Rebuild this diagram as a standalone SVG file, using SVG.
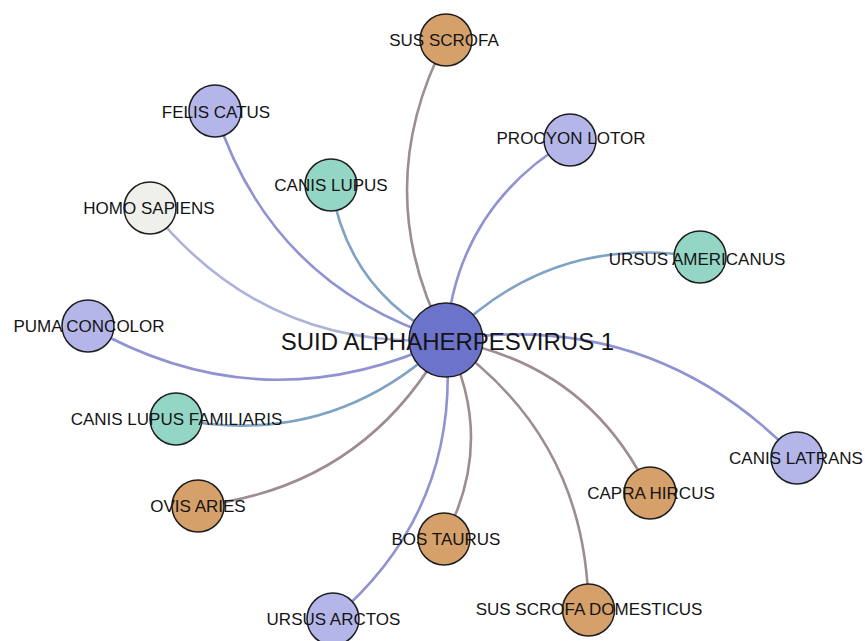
<svg xmlns="http://www.w3.org/2000/svg" width="865" height="641" viewBox="0 0 865 641">
  <style>
    .edge { fill: none; stroke-width: 2.6; stroke-linecap: round; }
    .e-lav { stroke: #8f93d2; }
    .e-tan { stroke: #9e8c95; }
    .e-teal { stroke: #7fa3c4; }
    .e-pale { stroke: #adb2d9; }
    .node { stroke: #1e1e1e; stroke-width: 1.5; }
    .hub { fill: #6b73cb; }
    .lav { fill: #b4b6ea; }
    .tan { fill: #d6a06b; }
    .teal { fill: #94d6c5; }
    .pale { fill: #eff0ec; }
    text { font-family: "Liberation Sans", Arial, sans-serif; font-size: 17px; fill: #141414; text-anchor: middle; }
    .hub-label { font-size: 24px; }
  </style>

  <!-- curved links from the hub to each host -->
  <g id="edges">
    <path class="edge e-tan"  d="M446,340 Q368,190 446,40"/>
    <path class="edge e-lav"  d="M446,340 Q271,285.5 215,111"/>
    <path class="edge e-lav"  d="M446,340 Q456,208 570,140"/>
    <path class="edge e-teal" d="M446,340 Q348,292 331,185"/>
    <path class="edge e-pale" d="M446,340 Q264,351 150,208"/>
    <path class="edge e-teal" d="M446,340 Q551,232.5 700,257"/>
    <path class="edge e-lav"  d="M446,340 Q263,426 88,326"/>
    <path class="edge e-teal" d="M446,340 Q331.5,449.5 176,419"/>
    <path class="edge e-lav"  d="M446,340 Q652,308 797,458"/>
    <path class="edge e-tan"  d="M446,340 Q588,363.5 650,493"/>
    <path class="edge e-tan"  d="M446,340 Q365,487.5 198,506"/>
    <path class="edge e-tan"  d="M446,340 Q497,440 444,539"/>
    <path class="edge e-tan"  d="M446,340 Q587,438 588.5,610"/>
    <path class="edge e-lav"  d="M446,340 Q462,509 333,619"/>
  </g>

  <g id="suid-alphaherpesvirus-1">
    <circle class="node hub" cx="446" cy="340" r="37"/>
    <text class="hub-label" x="447.5" y="350">SUID ALPHAHERPESVIRUS 1</text>
  </g>
  <g id="sus-scrofa">
    <circle class="node tan" cx="446" cy="40" r="26"/>
    <text x="444" y="46">SUS SCROFA</text>
  </g>
  <g id="felis-catus">
    <circle class="node lav" cx="215" cy="111" r="26"/>
    <text x="216" y="118">FELIS CATUS</text>
  </g>
  <g id="procyon-lotor">
    <circle class="node lav" cx="570" cy="140" r="26"/>
    <text x="571" y="144">PROCYON LOTOR</text>
  </g>
  <g id="canis-lupus">
    <circle class="node teal" cx="331" cy="185" r="26"/>
    <text x="331" y="191">CANIS LUPUS</text>
  </g>
  <g id="homo-sapiens">
    <circle class="node pale" cx="150" cy="208" r="26"/>
    <text x="149" y="214">HOMO SAPIENS</text>
  </g>
  <g id="ursus-americanus">
    <circle class="node teal" cx="700" cy="257" r="26"/>
    <text x="697" y="265">URSUS AMERICANUS</text>
  </g>
  <g id="puma-concolor">
    <circle class="node lav" cx="88" cy="326" r="26"/>
    <text x="89" y="332">PUMA CONCOLOR</text>
  </g>
  <g id="canis-lupus-familiaris">
    <circle class="node teal" cx="176" cy="419" r="26"/>
    <text x="176.5" y="425">CANIS LUPUS FAMILIARIS</text>
  </g>
  <g id="canis-latrans">
    <circle class="node lav" cx="797" cy="458" r="26"/>
    <text x="796" y="464">CANIS LATRANS</text>
  </g>
  <g id="capra-hircus">
    <circle class="node tan" cx="650" cy="493" r="26"/>
    <text x="651" y="499">CAPRA HIRCUS</text>
  </g>
  <g id="ovis-aries">
    <circle class="node tan" cx="198" cy="506" r="26"/>
    <text x="198" y="512">OVIS ARIES</text>
  </g>
  <g id="bos-taurus">
    <circle class="node tan" cx="444" cy="539" r="26"/>
    <text x="446" y="545">BOS TAURUS</text>
  </g>
  <g id="sus-scrofa-domesticus">
    <circle class="node tan" cx="588.5" cy="610" r="26"/>
    <text x="589" y="615">SUS SCROFA DOMESTICUS</text>
  </g>
  <g id="ursus-arctos">
    <circle class="node lav" cx="333" cy="619" r="26"/>
    <text x="333.5" y="625">URSUS ARCTOS</text>
  </g>
</svg>
